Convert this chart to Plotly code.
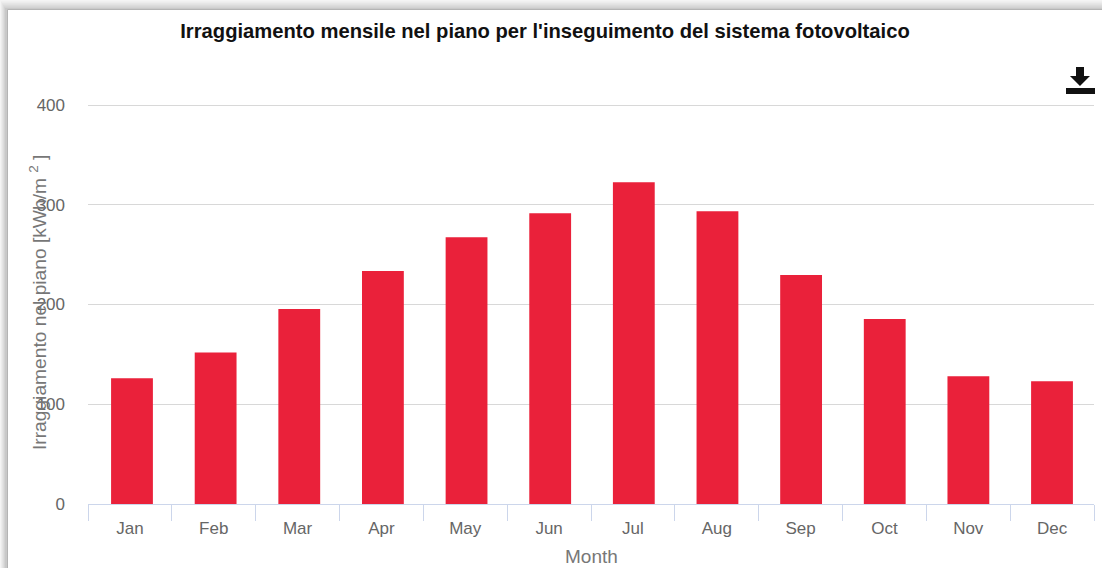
import plotly.graph_objects as go

months = ["Jan", "Feb", "Mar", "Apr", "May", "Jun", "Jul", "Aug", "Sep", "Oct", "Nov", "Dec"]
irradiation = [126, 152, 195.5, 233.5, 267.5, 291.5, 322.5, 293.5, 229.5, 185.5, 128, 123]
y_ticks = [0, 100, 200, 300, 400]

W, H = 1102, 568
L, R, T, B = 88, 8, 103, 64
FONT = "Liberation Sans, Arial, sans-serif"
GREY = "#666666"
AXIS = "#ccd6eb"

fig = go.Figure()
# carries the category axis with its ticks and labels
fig.add_trace(go.Bar(x=months, y=[0] * len(months), marker_line_width=0, hoverinfo="skip", xaxis="x"))
# the visible bars, on an overlaid axis: they sit slightly off the label centres in the reference
fig.add_trace(go.Bar(x=months, y=irradiation, marker=dict(color="#ea213a", line_width=0), width=0.5, xaxis="x2"))


def px_x(v):
    return (v - L) / (W - L - R)


def px_y(v):
    return (H - B - v) / (H - T - B)


# page frame with soft shadow
shapes = []
for i, col in enumerate(["#f4f4f4", "#ececec", "#e4e4e4", "#dcdcdc", "#d2d2d2", "#c8c8c8"]):
    shapes.append(dict(type="rect", xref="paper", yref="paper", layer="below",
                       x0=px_x(i), x1=px_x(W + 5), y0=px_y(H + 5), y1=px_y(i * 1.6),
                       fillcolor=col, line_width=0))
shapes.append(dict(type="rect", xref="paper", yref="paper", layer="below",
                   x0=px_x(7.5), x1=px_x(W + 5), y0=px_y(H + 5), y1=px_y(9.5),
                   fillcolor="white", line=dict(color="#b4b4b4", width=1)))


# download icon
def icon_path():
    pts = [(1076, 67), (1084, 67), (1084, 76), (1090, 76), (1080, 86), (1070, 76), (1076, 76)]
    arrow = "M " + " L ".join(f"{px_x(a):.5f},{px_y(b):.5f}" for a, b in pts) + " Z "
    tray = [(1066, 88), (1095, 88), (1095, 94), (1066, 94)]
    return arrow + "M " + " L ".join(f"{px_x(a):.5f},{px_y(b):.5f}" for a, b in tray) + " Z"


shapes.append(dict(type="path", xref="paper", yref="paper", path=icon_path(),
                   fillcolor="#111111", line_width=0))

fig.update_layout(
    width=W, height=H,
    margin=dict(l=L, r=R, t=T, b=B, pad=0, autoexpand=False),
    paper_bgcolor="white", plot_bgcolor="rgba(0,0,0,0)",
    showlegend=False,
    font=dict(family=FONT, color=GREY, size=16),
    shapes=shapes,
    title=dict(text="<b>Irraggiamento mensile nel piano per l'inseguimento del sistema fotovoltaico</b>",
               x=545 / W, xanchor="center", xref="container",
               y=1 - 31 / H, yanchor="middle", yref="container",
               font=dict(family=FONT, size=20.2, color="#111111")),
    xaxis=dict(type="category", categoryorder="array", categoryarray=months,
               range=[-0.5, 11.5], automargin=False,
               tickson="boundaries", ticks="outside", ticklen=16, tickwidth=1, tickcolor=AXIS,
               showline=True, linecolor=AXIS, linewidth=1, showgrid=False, zeroline=False,
               tickfont=dict(size=17, color=GREY), ticklabelstandoff=9),
    xaxis2=dict(type="category", categoryorder="array", categoryarray=months,
                overlaying="x", visible=False, range=[-0.526, 11.502]),
    yaxis=dict(range=[0, 402], tickvals=y_ticks, ticktext=[str(v) for v in y_ticks],
               showgrid=True, gridcolor="#d8d8d8", gridwidth=1, zeroline=False, showline=False,
               ticks="", ticklabelstandoff=22,
               tickfont=dict(size=17, color=GREY),
               automargin=False),
    annotations=[
        dict(text="Irraggiamento nel piano [kWh/m <sup>2</sup> ]", textangle=-90,
             xref="paper", yref="paper", x=px_x(38), y=px_y(303),
             xanchor="center", yanchor="middle", showarrow=False,
             font=dict(size=19.2, color="#777777")),
        dict(text="Month", xref="paper", yref="paper", x=px_x(591), y=px_y(556),
             xanchor="center", yanchor="middle", showarrow=False,
             font=dict(size=19, color="#777777")),
    ],
)

fig.write_html("out.html", config=dict(displayModeBar=False),
               post_script="document.body.style.margin='0';document.body.style.overflow='hidden';")
